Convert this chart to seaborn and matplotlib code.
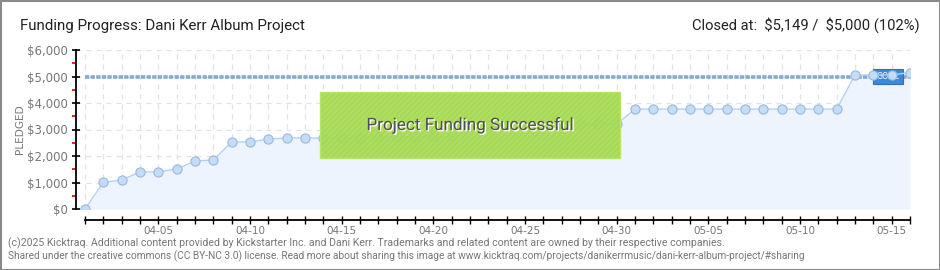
import matplotlib
matplotlib.use("Agg")
import matplotlib.pyplot as plt
import matplotlib.patheffects as pe
from matplotlib.patches import Rectangle
from matplotlib.ticker import MultipleLocator, FuncFormatter
import seaborn as sns
import pandas as pd

# ---------------- data ----------------
dates = ["04-01", "04-02", "04-03", "04-04", "04-05", "04-06", "04-07", "04-08",
         "04-09", "04-10", "04-11", "04-12", "04-13", "04-14", "04-15", "04-16",
         "04-17", "04-18", "04-19", "04-20", "04-21", "04-22", "04-23", "04-24",
         "04-25", "04-26", "04-27", "04-28", "04-29", "04-30", "05-01", "05-02",
         "05-03", "05-04", "05-05", "05-06", "05-07", "05-08", "05-09", "05-10",
         "05-11", "05-12", "05-13", "05-14", "05-15", "05-16"]
pledged = [0, 1010, 1090, 1400, 1400, 1510, 1810, 1850,
           2530, 2530, 2640, 2680, 2680, 2680, 2680, 2690,
           2720, 2720, 2720, 2750, 2750, 3150, 3180, 3180,
           3180, 3180, 3200, 3200, 3200, 3200, 3770, 3770,
           3770, 3770, 3770, 3770, 3770, 3770, 3770, 3770,
           3770, 3770, 5060, 5060, 5060, 5149]
goal = 5000
labeled_dates = ["04-05", "04-10", "04-15", "04-20", "04-25", "04-30",
                 "05-05", "05-10", "05-15"]
title = "Funding Progress: Dani Kerr Album Project"
status = r"Closed at:  \$5,149 /  \$5,000 (102%)"
banner = "Project Funding Successful"
footer1 = ("(c)2025 Kicktraq. Additional content provided by Kickstarter Inc. and Dani Kerr. "
           "Trademarks and related content are owned by their respective companies.")
footer2 = ("Shared under the creative commons (CC BY-NC 3.0) license. Read more about sharing "
           "this image at www.kicktraq.com/projects/danikerrmusic/dani-kerr-album-project/#sharing")

df = pd.DataFrame({"day": range(len(dates)), "date": dates, "pledged": pledged})

# ---------------- style ----------------
sns.set_theme(style="white")
narrow = ["Roboto", "DejaVu Sans"]
plt.rcParams["font.family"] = ["DejaVu Sans"]
plt.rcParams["hatch.linewidth"] = 0.4

W, H = 940, 270
fig = plt.figure(figsize=(9.4, 2.7), dpi=100)
fig.patch.set_facecolor("white")
ax = fig.add_axes([76 / W, 61 / H, 834 / W, 159 / H])
ax.set_facecolor("none")

line_c = "#b3d1f2"
fill_c = "#edf4fd"
mface = "#c4dcf6"
medge = "#98b9df"

ax.fill_between(df["day"], df["pledged"], 0, color=fill_c, lw=0, zorder=1)
sns.lineplot(data=df, x="day", y="pledged", ax=ax, color=line_c, lw=1.0,
             marker="o", markersize=6.6, markerfacecolor=mface,
             markeredgecolor=medge, markeredgewidth=0.8, zorder=6)

# goal line
ax.hlines(goal, df["day"].iloc[0], df["day"].iloc[-1], colors="#86a9d6",
          lw=2.6, linestyles=(0, (1.2, 0.35)), zorder=3)
ax.text(43.8, goal, "GOAL", ha="center", va="center", color="white",
        fontsize=6.5, zorder=5, family=narrow,
        bbox=dict(boxstyle="square,pad=0.35", fc="#3f88d6", ec="#2e72bd", lw=0.8))

# success banner
x0 = (320 - 85) / 18.33
x1 = (620 - 85) / 18.33
y0 = 1925
y1 = 4415
ax.add_patch(Rectangle((x0, y0), x1 - x0, y1 - y0, facecolor="#a7dc54",
                       edgecolor="#9ccf49", hatch="//////", lw=0, alpha=0.93,
                       zorder=8))
ax.add_patch(Rectangle((x0, y0), x1 - x0, y1 - y0, facecolor="none",
                       edgecolor="#b8e46e", lw=1.0, zorder=8))
ax.text((x0 + x1) / 2, (y0 + y1) / 2, banner, ha="center", va="center",
        fontsize=12.3, color="#505050", zorder=9, family=narrow,
        path_effects=[pe.withSimplePatchShadow(offset=(1, -1),
                                                shadow_rgbFace="white", alpha=1)])

# axes
ax.set_xlim(-0.49, 45.0)
ax.set_ylim(0, 6000)
ax.set_xlabel("")
ax.set_ylabel("")
ax.set_xticks(df["day"])
ax.set_xticklabels([d if d in labeled_dates else "" for d in dates])
ax.yaxis.set_major_locator(MultipleLocator(1000))
ax.yaxis.set_minor_locator(MultipleLocator(500))
ax.yaxis.set_major_formatter(FuncFormatter(lambda v, p: "\\${:,.0f}".format(v)))

for s in ["top", "right"]:
    ax.spines[s].set_visible(False)
ax.spines["left"].set_color("black")
ax.spines["left"].set_linewidth(1.3)
ax.spines["left"].set_bounds(0, 6000)
ax.spines["bottom"].set_color("black")
ax.spines["bottom"].set_linewidth(1.3)
ax.spines["bottom"].set_position(("outward", 8))
ax.spines["bottom"].set_bounds(0, 45)

ax.tick_params(axis="y", which="major", direction="inout", length=6, width=1.2,
               color="black", labelsize=8.5, labelcolor="#777777", pad=3,
               left=True)
ax.tick_params(axis="y", which="minor", direction="out", length=3, width=1.2,
               color="#e00000", left=True)
ax.tick_params(axis="x", which="major", direction="inout", length=6, width=1.0,
               color="black", labelsize=7.5, labelcolor="#777777", pad=1,
               bottom=True)

ax.grid(True, axis="both", which="major", color="#e2e2e2", lw=0.9,
        ls=(0, (4, 4)), zorder=0)
ax.set_axisbelow(True)

# texts
fig.text(20 / W, 1 - 30 / H, title, fontsize=10.9, color="#222222",
         ha="left", va="baseline", family=narrow)
fig.text(920 / W, 1 - 30 / H, status, fontsize=10.6, color="#222222",
         ha="right", va="baseline", family=narrow)
fig.text(20 / W, 1 - 129 / H, "PLEDGED", rotation=90, fontsize=7.6,
         color="#777777", ha="center", va="center")
fig.text(8 / W, 1 - 243 / H, footer1, fontsize=7.55, color="#777777",
         ha="left", va="center", family=narrow)
fig.text(8 / W, 1 - 256 / H, footer2, fontsize=7.25, color="#777777",
         ha="left", va="center", family=narrow)

fig.add_artist(Rectangle((0, 0), 1, 1, transform=fig.transFigure, fill=False,
                         edgecolor="#8a8a8a", lw=2.2))

fig.savefig("out.png", dpi=100, facecolor="white")
